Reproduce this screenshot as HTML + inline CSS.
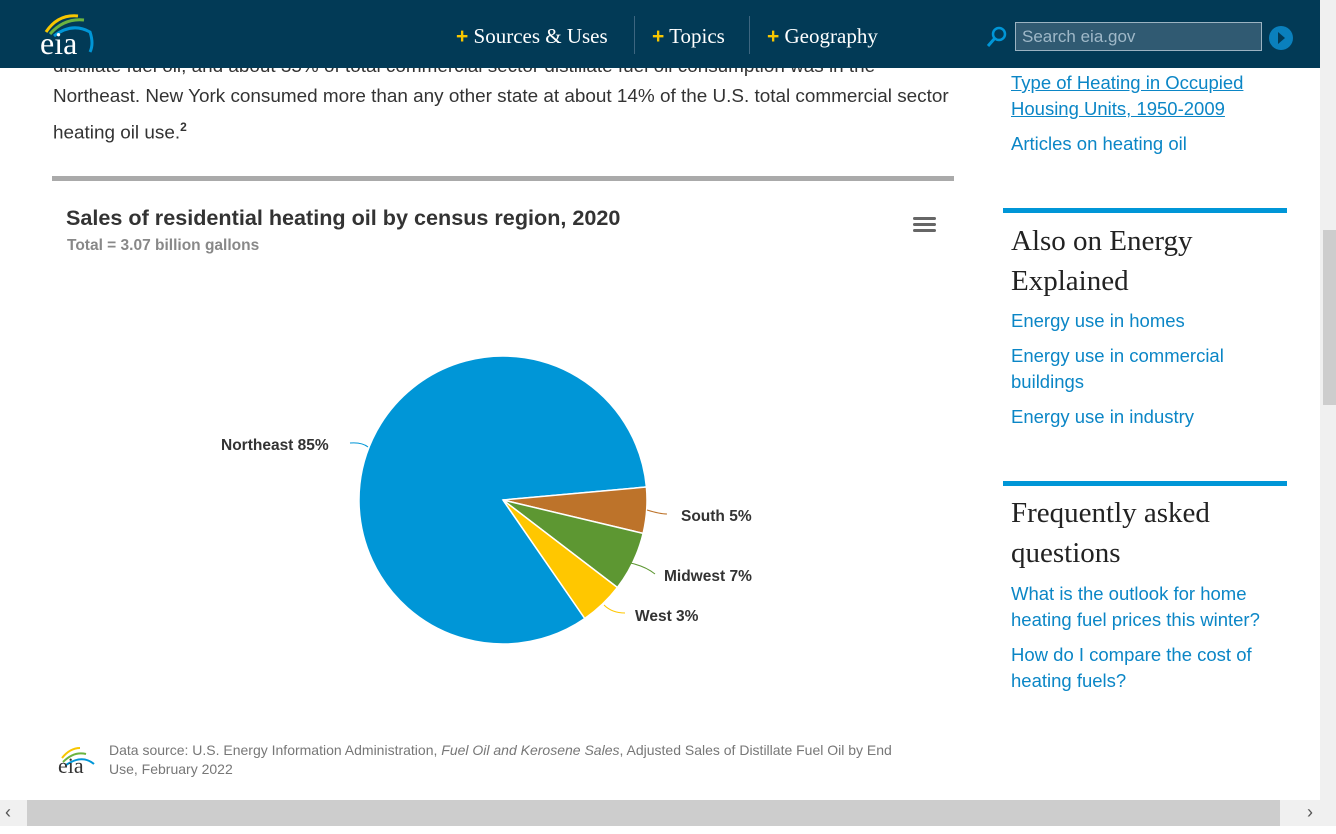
<!DOCTYPE html>
<html><head><meta charset="utf-8"><style>
body{margin:0;width:1336px;height:834px;overflow:hidden;background:#fff;font-family:"Liberation Sans",sans-serif;position:relative}
.hdr{position:absolute;left:0;top:0;width:1320px;height:68px;background:#023a56}
.nav{position:absolute;top:24px;font-family:"Liberation Serif",serif;font-size:21px;color:#fff}
.nav b{color:#f7c600;font-family:"Liberation Sans";font-weight:bold}
.sep{position:absolute;top:16px;width:1px;height:38px;background:#3d6680}
.a{position:absolute;color:#0b86c6;font-size:18.5px;line-height:26px}
.h2{position:absolute;font-family:"Liberation Serif",serif;font-size:29px;color:#222;line-height:40px}
.bar{position:absolute;left:1003px;width:284px;height:5px;background:#0096d7}
.t{position:absolute;font-size:18.9px;color:#333;line-height:30px}
</style></head><body>
<div class="t" style="left:53px;top:52px;width:920px">distillate fuel oil, and about 35% of total commercial sector distillate fuel oil consumption was in the<br>Northeast. New York consumed more than any other state at about 14% of the U.S. total commercial sector<br>heating oil use.<sup style="font-size:12px;font-weight:bold">2</sup></div>
<div class="hdr">
<svg style="position:absolute;left:38px;top:10px" width="64" height="52"><path d="M8 22 Q20 4 40 6" stroke="#f7c600" stroke-width="3" fill="none"/><path d="M12 24 Q26 8 46 10" stroke="#6bb33f" stroke-width="3" fill="none"/><path d="M16 26 Q34 12 52 22 Q56 34 52 42" stroke="#0096d7" stroke-width="3" fill="none"/><text x="2" y="44" font-family="Liberation Serif" font-size="32" fill="#fff">eia</text></svg>
<div class="nav" style="left:456px"><b>+</b> Sources &amp; Uses</div>
<div class="sep" style="left:634px"></div>
<div class="nav" style="left:652px"><b>+</b> Topics</div>
<div class="sep" style="left:749px"></div>
<div class="nav" style="left:767px"><b>+</b> Geography</div>
<svg style="position:absolute;left:986px;top:26px" width="22" height="22"><circle cx="13" cy="8" r="6" stroke="#0096d7" stroke-width="2.5" fill="none"/><line x1="9" y1="12" x2="2" y2="20" stroke="#0096d7" stroke-width="3"/></svg>
<div style="position:absolute;left:1015px;top:22px;width:247px;height:29px;border:1px solid #9bb3c2;background:#305a72;color:#9fb8c8;font-size:17px;line-height:28px;padding-left:6px;box-sizing:border-box">Search eia.gov</div>
<div style="position:absolute;left:1269px;top:26px;width:24px;height:24px;border-radius:50%;background:#0a80bd"></div>
<div style="position:absolute;left:1278px;top:32px;border-left:7px solid #023a56;border-top:6px solid transparent;border-bottom:6px solid transparent"></div>
</div>
<div style="position:absolute;left:52px;top:176px;width:902px;height:5px;background:#aaa"></div>
<div style="position:absolute;left:66px;top:205px;font-size:21.6px;font-weight:bold;color:#333">Sales of residential heating oil by census region, 2020</div>
<div style="position:absolute;left:67px;top:237px;font-size:15.5px;font-weight:bold;color:#888">Total = 3.07 billion gallons</div>
<div style="position:absolute;left:913px;top:217px;width:23px;height:3px;background:#666;box-shadow:0 6px #666,0 12px #666;border-radius:2px"></div>
<svg style="position:absolute;left:0;top:0" width="960" height="800">
<path d="M503 500 L584.8 618.5 A144 144 0 1 1 646.4 487 Z" fill="#0096d7" stroke="#fff" stroke-width="1.5"/>
<path d="M503 500 L646.4 487 A144 144 0 0 1 643.1 533.4 Z" fill="#bd732a" stroke="#fff" stroke-width="1.5"/>
<path d="M503 500 L643.1 533.4 A144 144 0 0 1 617.4 587.5 Z" fill="#5d9732" stroke="#fff" stroke-width="1.5"/>
<path d="M503 500 L617.4 587.5 A144 144 0 0 1 584.8 618.5 Z" fill="#ffc700" stroke="#fff" stroke-width="1.5"/>
<path d="M350 443 Q362 442 368 447" stroke="#0096d7" fill="none"/>
<path d="M647 510 Q660 514 667 514" stroke="#bd732a" fill="none"/>
<path d="M630 563 Q645 566 655 574" stroke="#5d9732" fill="none"/>
<path d="M604 605 Q612 613 625 613" stroke="#ffc700" fill="none"/>
<g font-family="Liberation Sans" font-size="15.5" font-weight="bold" fill="#333">
<text x="221" y="450">Northeast 85%</text><text x="681" y="521">South 5%</text><text x="664" y="581">Midwest 7%</text><text x="635" y="621">West 3%</text></g>
<path d="M62 758 Q70 748 80 748" stroke="#f7c600" stroke-width="2" fill="none"/><path d="M63 762 Q74 751 86 754" stroke="#6bb33f" stroke-width="2" fill="none"/><path d="M66 765 Q82 754 94 764" stroke="#0096d7" stroke-width="2" fill="none"/>
<text x="58" y="773" font-family="Liberation Serif" font-size="22" fill="#333">eia</text>
</svg>
<div style="position:absolute;left:109px;top:741px;font-size:14px;color:#777;line-height:19px;width:812px">Data source: U.S. Energy Information Administration, <i>Fuel Oil and Kerosene Sales</i>, Adjusted Sales of Distillate Fuel Oil by End Use, February 2022</div>
<div class="a" style="left:1011px;top:70px;text-decoration:underline">Type of Heating in Occupied<br>Housing Units, 1950-2009</div>
<div class="a" style="left:1011px;top:131px">Articles on heating oil</div>
<div class="bar" style="top:208px"></div>
<div class="h2" style="left:1011px;top:221px">Also on Energy<br>Explained</div>
<div class="a" style="left:1011px;top:308px">Energy use in homes</div>
<div class="a" style="left:1011px;top:343px">Energy use in commercial<br>buildings</div>
<div class="a" style="left:1011px;top:404px">Energy use in industry</div>
<div class="bar" style="top:481px"></div>
<div class="h2" style="left:1011px;top:493px">Frequently asked<br>questions</div>
<div class="a" style="left:1011px;top:581px">What is the outlook for home<br>heating fuel prices this winter?</div>
<div class="a" style="left:1011px;top:642px">How do I compare the cost of<br>heating fuels?</div>
<div style="position:absolute;left:1320px;top:0;width:16px;height:800px;background:#f0f0f0"></div>
<div style="position:absolute;left:1323px;top:230px;width:13px;height:175px;background:#cdcdcd"></div>
<div style="position:absolute;left:0;top:800px;width:1336px;height:26px;background:#f0f0f0"></div>
<div style="position:absolute;left:27px;top:800px;width:1253px;height:26px;background:#cdcdcd"></div>
<div style="position:absolute;left:5px;top:802px;font-size:18px;color:#555">‹</div>
<div style="position:absolute;left:1307px;top:802px;font-size:18px;color:#555">›</div>
</body></html>
